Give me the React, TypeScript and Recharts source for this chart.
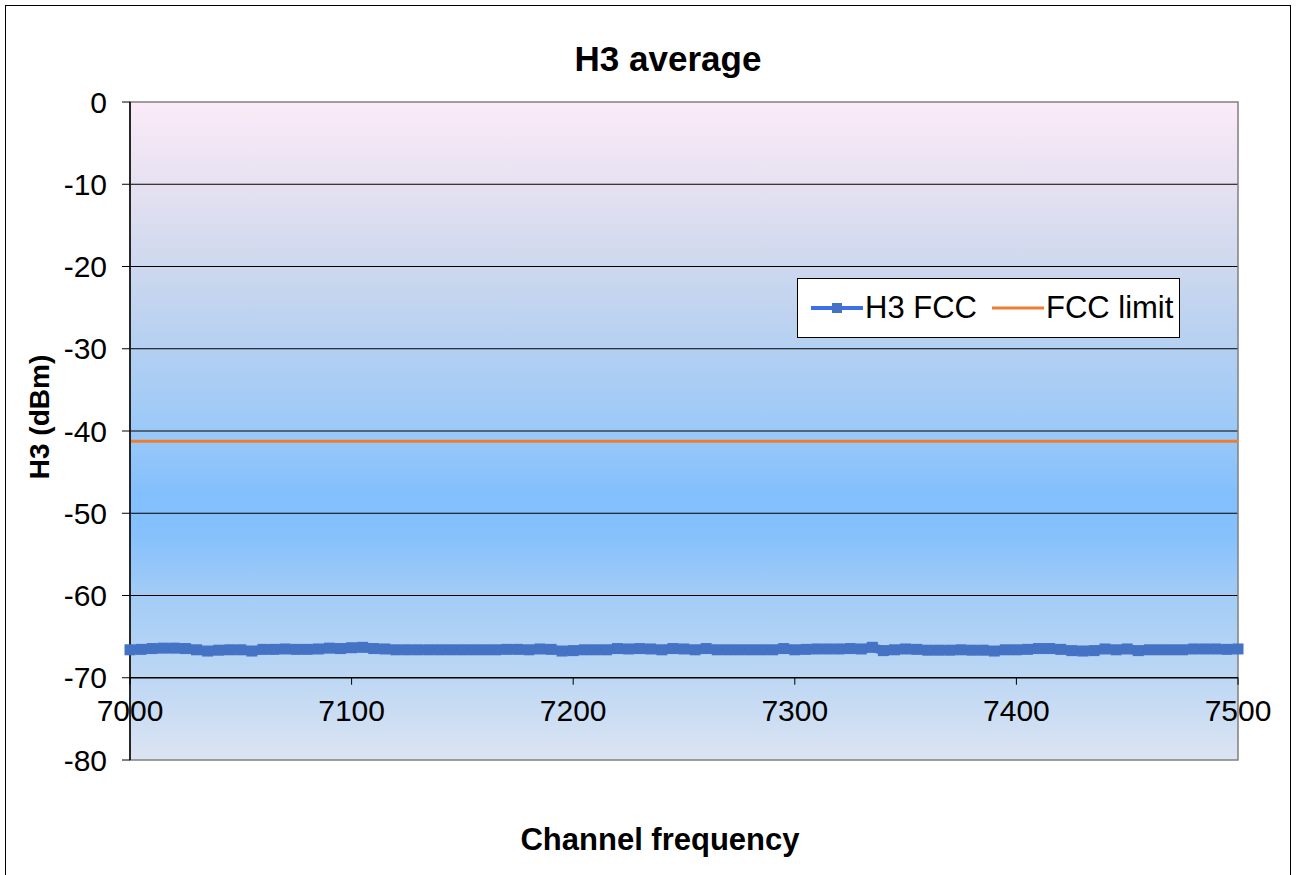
import { LineChart, Line, XAxis, YAxis, CartesianGrid, ReferenceArea, ReferenceLine, Legend } from 'recharts';

// channel frequencies (MHz)
const frequencies = [
  7000, 7005, 7010, 7015, 7020, 7025, 7030, 7035, 7040, 7045,
  7050, 7055, 7060, 7065, 7070, 7075, 7080, 7085, 7090, 7095,
  7100, 7105, 7110, 7115, 7120, 7125, 7130, 7135, 7140, 7145,
  7150, 7155, 7160, 7165, 7170, 7175, 7180, 7185, 7190, 7195,
  7200, 7205, 7210, 7215, 7220, 7225, 7230, 7235, 7240, 7245,
  7250, 7255, 7260, 7265, 7270, 7275, 7280, 7285, 7290, 7295,
  7300, 7305, 7310, 7315, 7320, 7325, 7330, 7335, 7340, 7345,
  7350, 7355, 7360, 7365, 7370, 7375, 7380, 7385, 7390, 7395,
  7400, 7405, 7410, 7415, 7420, 7425, 7430, 7435, 7440, 7445,
  7450, 7455, 7460, 7465, 7470, 7475, 7480, 7485, 7490, 7495,
  7500,
];

// H3 FCC measurement (dBm)
const h3Fcc = [
  -66.6, -66.55, -66.45, -66.4, -66.4, -66.45, -66.6, -66.75, -66.65, -66.6,
  -66.6, -66.75, -66.55, -66.55, -66.5, -66.55, -66.55, -66.5, -66.4, -66.45,
  -66.35, -66.3, -66.45, -66.5, -66.6, -66.6, -66.6, -66.6, -66.6, -66.6,
  -66.6, -66.6, -66.6, -66.6, -66.55, -66.55, -66.6, -66.5, -66.55, -66.75,
  -66.7, -66.6, -66.6, -66.6, -66.45, -66.5, -66.45, -66.5, -66.6, -66.45,
  -66.5, -66.6, -66.45, -66.6, -66.6, -66.6, -66.6, -66.6, -66.6, -66.45,
  -66.6, -66.55, -66.5, -66.5, -66.5, -66.45, -66.5, -66.3, -66.7, -66.6,
  -66.5, -66.55, -66.65, -66.65, -66.65, -66.6, -66.65, -66.65, -66.75, -66.6,
  -66.6, -66.55, -66.45, -66.45, -66.55, -66.7, -66.75, -66.7, -66.5, -66.6,
  -66.5, -66.7, -66.6, -66.6, -66.6, -66.6, -66.5, -66.5, -66.5, -66.55,
  -66.5,
];

const limitFrequencies = [7000, 7500];
const fccLimit = [-41.25, -41.25];

const xTicks = [7000, 7100, 7200, 7300, 7400, 7500];
const yTicks = [0, -10, -20, -30, -40, -50, -60, -70, -80];
const gridLines = [-10, -20, -30, -40, -50, -60];

const h3Data = frequencies.map((f, i) => ({ freq: f, h3: h3Fcc[i] }));
const limitData = limitFrequencies.map((f, i) => ({ freq: f, limit: fccLimit[i] }));

const FONT = '"Liberation Sans", Arial, sans-serif';
const BLUE = '#4472C4';
const ORANGE = '#ED7D31';

// x axis crosses the value axis at -70
const PLOT_TOP = 102;
const PLOT_H = 658;
const AXIS_Y = PLOT_TOP + (PLOT_H * 70) / 80;

const XTick = ({ x, payload }: any) => (
  <g>
    <line x1={x} x2={x} y1={AXIS_Y} y2={AXIS_Y + 7} stroke="#000" strokeWidth={1} />
    <text x={x} y={AXIS_Y + 35} textAnchor="middle" dominantBaseline="middle" fontSize={30} fill="#000" fontFamily={FONT}>
      {payload.value}
    </text>
  </g>
);

const SquareDot = (props: any) => {
  const { cx, cy, index } = props;
  return <rect key={`sq-${index}`} x={cx - 5.5} y={cy - 5.5} width={11} height={11} fill={BLUE} />;
};

const LegendBox = () => (
  <div
    style={{
      width: 381,
      height: 58,
      border: '1px solid #000',
      background: '#fff',
      display: 'flex',
      alignItems: 'center',
      fontFamily: FONT,
      fontSize: 31,
      color: '#000',
      whiteSpace: 'nowrap',
    }}
  >
    <svg width={56} height={20} style={{ marginLeft: 11 }}>
      <line x1={2} x2={54} y1={10} y2={10} stroke="#3F6FE8" strokeWidth={4} />
      <rect x={23} y={5} width={10} height={10} fill={BLUE} />
    </svg>
    <span>H3 FCC</span>
    <svg width={56} height={20} style={{ marginLeft: 13 }}>
      <line x1={2} x2={54} y1={10} y2={10} stroke={ORANGE} strokeWidth={3} />
    </svg>
    <span>FCC limit</span>
  </div>
);

const App = () => {
  return (
    <div style={{ position: 'absolute', left: 0, top: 0, width: 1296, height: 875, background: '#fff', fontFamily: FONT, overflow: 'hidden' }}>
      <div style={{ position: 'absolute', left: 5, top: 5, width: 1284, height: 880, border: '1.5px solid #000' }} />
      <div style={{ position: 'absolute', left: 0, width: 1336, top: 39, textAlign: 'center', fontSize: 35, fontWeight: 'bold' }}>
        H3 average
      </div>
      <div
        style={{
          position: 'absolute',
          left: 40,
          top: 417,
          fontSize: 28,
          fontWeight: 'bold',
          whiteSpace: 'nowrap',
          transform: 'translate(-50%, -50%) rotate(-90deg)',
        }}
      >
        H3 (dBm)
      </div>
      <div style={{ position: 'absolute', left: 0, width: 1320, top: 822, textAlign: 'center', fontSize: 31, fontWeight: 'bold' }}>
        Channel frequency
      </div>
      <LineChart width={1296} height={875} margin={{ top: PLOT_TOP, right: 58, bottom: 0, left: 0 }}>
        <defs>
          <linearGradient id="plotBg" x1="0" y1="0" x2="0" y2="1">
            <stop offset="0" stopColor="#FCEBF8" />
            <stop offset="0.125" stopColor="#E6E1F1" />
            <stop offset="0.25" stopColor="#CDD8EE" />
            <stop offset="0.375" stopColor="#B4D0F2" />
            <stop offset="0.5" stopColor="#9BC9F8" />
            <stop offset="0.6" stopColor="#82BFFD" />
            <stop offset="0.66" stopColor="#86C1FC" />
            <stop offset="0.75" stopColor="#A3CCF6" />
            <stop offset="0.875" stopColor="#BDD7F4" />
            <stop offset="1" stopColor="#DCE4F2" />
          </linearGradient>
        </defs>
        <CartesianGrid fill="url(#plotBg)" vertical={false} horizontalValues={gridLines} stroke="#000" strokeOpacity={1} />
        <ReferenceArea x1={7000} x2={7500} y1={-80} y2={0} fill="none" stroke="#808080" strokeWidth={1.5} ifOverflow="visible" />
        <XAxis
          dataKey="freq"
          type="number"
          domain={[7000, 7500]}
          ticks={xTicks}
          height={115}
          axisLine={false}
          tickLine={false}
          tick={<XTick />}
          interval={0}
        />
        <YAxis
          type="number"
          domain={[-80, 0]}
          ticks={yTicks}
          width={130}
          axisLine={{ stroke: '#000', strokeWidth: 1.5 }}
          tickLine={{ stroke: '#000' }}
          tickSize={8}
          tickMargin={15}
          tick={{ fontSize: 30, fill: '#000', fontFamily: FONT }}
          interval={0}
        />
        <ReferenceLine y={-70} stroke="#000" strokeWidth={1.5} />
        <Line
          data={limitData}
          dataKey="limit"
          name="FCC limit"
          stroke={ORANGE}
          strokeWidth={3}
          dot={false}
          isAnimationActive={false}
        />
        <Line
          data={h3Data}
          dataKey="h3"
          name="H3 FCC"
          stroke={BLUE}
          strokeWidth={9}
          dot={SquareDot}
          isAnimationActive={false}
        />
        <Legend
          layout="horizontal"
          verticalAlign="middle"
          align="center"
          content={<LegendBox />}
          wrapperStyle={{ left: 797, top: 278, right: 'auto', width: 383 }}
        />
      </LineChart>
    </div>
  );
};

export default App;
